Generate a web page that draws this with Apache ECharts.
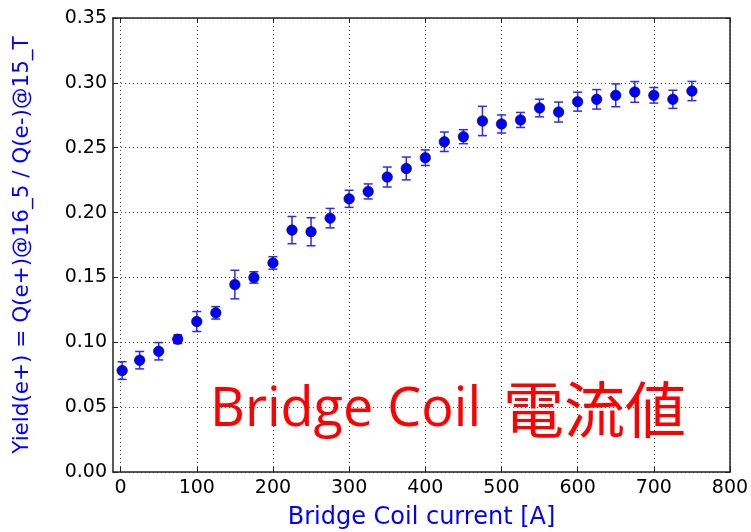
<!DOCTYPE html>
<html>
<head>
<meta charset="utf-8">
<script src="https://cdn.jsdelivr.net/npm/echarts@6/dist/echarts.min.js"></script>
<style>
html,body{margin:0;padding:0;background:#fff;}
#chart{width:751px;height:532px;}
</style>
</head>
<body>
<div id="chart"></div>
<script>
// Data
const currents = [2, 25, 50, 75, 100, 125, 150, 175, 200, 225, 250, 275, 300, 325, 350, 375, 400, 425, 450, 475, 500, 525, 550, 575, 600, 625, 650, 675, 700, 725, 750];
const yields = [0.0782, 0.0862, 0.0931, 0.1024, 0.1160, 0.1227, 0.1445, 0.1500, 0.1612, 0.1865, 0.1852, 0.1957, 0.2106, 0.2163, 0.2274, 0.2340, 0.2423, 0.2546, 0.2585, 0.2706, 0.2683, 0.2714, 0.2806, 0.2775, 0.2855, 0.2873, 0.2904, 0.2930, 0.2904, 0.2873, 0.2937];
const errors = [0.0068, 0.0067, 0.0067, 0.0033, 0.0077, 0.0048, 0.0110, 0.0044, 0.0048, 0.0105, 0.0108, 0.0075, 0.0066, 0.0058, 0.0077, 0.0088, 0.0060, 0.0075, 0.0054, 0.0113, 0.0070, 0.0058, 0.0068, 0.0077, 0.0073, 0.0075, 0.0088, 0.0080, 0.0060, 0.0070, 0.0074];
const xTicks = [0, 100, 200, 300, 400, 500, 600, 700, 800];
const yTicks = [0.00, 0.05, 0.10, 0.15, 0.20, 0.25, 0.30, 0.35];
const xAxisTitle = 'Bridge Coil current [A]';
const yAxisTitle = 'Yield(e+) = Q(e+)@16_5 / Q(e-)@15_T';
const noteLatin = 'Bridge Coil';
const noteCJK = '電流値';

const pts = currents.map((c, i) => [c, yields[i]]);
const errData = currents.map((c, i) => [c, yields[i], errors[i]]);

const chart = echarts.init(document.getElementById('chart'));
const tickFont = {color: '#000', fontFamily: 'DejaVu Sans', fontSize: 19};
const frameLine = {show: true, onZero: false, lineStyle: {color: '#222', width: 1.5}};
const gridDots = {show: true, lineStyle: {color: '#444', width: 1, type: [1, 3]}};

const option = {
  animation: false,
  backgroundColor: '#fff',
  grid: {left: 113, right: 21, top: 18, bottom: 60, containLabel: false, outerBoundsMode: 'none'},
  xAxis: [{
    type: 'value', min: -10, max: 800, position: 'bottom',
    axisLine: frameLine,
    axisTick: {show: true, inside: true, length: 5, lineStyle: {color: '#222'}, customValues: xTicks},
    axisLabel: Object.assign({margin: 7, customValues: xTicks}, tickFont),
    splitLine: gridDots,
    name: xAxisTitle, nameLocation: 'middle', nameGap: 34,
    nameTextStyle: {color: '#0000ff', fontFamily: 'DejaVu Sans', fontSize: 24}
  }, {
    type: 'value', min: -10, max: 800, position: 'top',
    axisLine: frameLine,
    axisTick: {show: true, inside: true, length: 5, lineStyle: {color: '#222'}, customValues: xTicks},
    axisLabel: {show: false},
    splitLine: {show: false}
  }],
  yAxis: [{
    type: 'value', min: 0, max: 0.35, interval: 0.05, position: 'left',
    axisLine: frameLine,
    axisTick: {show: true, inside: true, length: 5, lineStyle: {color: '#222'}, customValues: yTicks},
    axisLabel: Object.assign({margin: 6, customValues: yTicks, formatter: v => v.toFixed(2)}, tickFont),
    splitLine: gridDots,
    name: yAxisTitle, nameLocation: 'middle', nameGap: 80,
    nameTextStyle: {color: '#0000ff', fontFamily: 'DejaVu Sans', fontSize: 21.5}
  }, {
    type: 'value', min: 0, max: 0.35, interval: 0.05, position: 'right',
    axisLine: frameLine,
    axisTick: {show: true, inside: true, length: 5, lineStyle: {color: '#222'}},
    axisLabel: {show: false},
    splitLine: {show: false}
  }],
  series: [{
    type: 'custom',
    xAxisIndex: 0, yAxisIndex: 0,
    data: errData,
    z: 3,
    renderItem: function (params, api) {
      const x = api.value(0), y = api.value(1), e = api.value(2);
      const top = api.coord([x, y + e]);
      const bot = api.coord([x, y - e]);
      const hw = 4.5;
      const style = {stroke: '#2a2aff', lineWidth: 1.5, fill: null};
      return {
        type: 'group',
        children: [
          {type: 'line', shape: {x1: top[0], y1: top[1], x2: bot[0], y2: bot[1]}, style: style},
          {type: 'line', shape: {x1: top[0] - hw, y1: top[1], x2: top[0] + hw, y2: top[1]}, style: style},
          {type: 'line', shape: {x1: bot[0] - hw, y1: bot[1], x2: bot[0] + hw, y2: bot[1]}, style: style}
        ]
      };
    }
  }, {
    type: 'scatter',
    xAxisIndex: 0, yAxisIndex: 0,
    data: pts,
    symbol: 'circle', symbolSize: 10.5,
    z: 4,
    itemStyle: {color: '#0000ff', borderColor: '#000033', borderWidth: 0.6, opacity: 1}
  }],
  graphic: [{
    type: 'text', left: 210, top: 384, z: 10,
    style: {text: noteLatin, fill: '#ff0000', font: '54px "Open Sans", sans-serif'}
  }, {
    type: 'text', left: 503, top: 379, z: 10,
    style: {text: noteCJK, fill: '#ff0000', font: '61px "Noto Sans CJK JP", sans-serif'}
  }]
};
chart.setOption(option);
</script>
</body>
</html>
